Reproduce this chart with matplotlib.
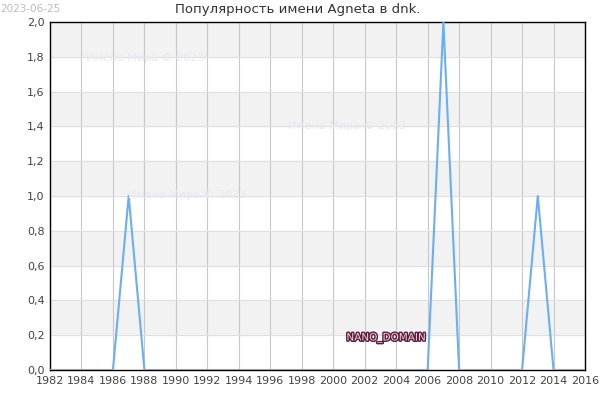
import matplotlib
matplotlib.use("Agg")
import matplotlib.pyplot as plt
import matplotlib.patheffects as pe

years = list(range(1982, 2017))
values = [0] * len(years)
peaks = {1987: 1, 2007: 2, 2013: 1}
for y, v in peaks.items():
    values[years.index(y)] = v

yticks = [0.0, 0.2, 0.4, 0.6, 0.8, 1.0, 1.2, 1.4, 1.6, 1.8, 2.0]
xticks = list(range(1982, 2017, 2))

fig = plt.figure(figsize=(6, 4), dpi=100)
ax = fig.add_axes([50 / 600, 30 / 400, 535 / 600, 348 / 400])

# alternating bands
for i in range(1, len(yticks) - 1, 2):
    ax.axhspan(yticks[i], yticks[i + 1], color="#f2f2f2", zorder=0)

for x in xticks:
    ax.axvline(x, color="#c8c8c8", lw=0.8, zorder=1)
for y in yticks:
    ax.axhline(y, color="#e0e0e0", lw=0.8, zorder=1)

ax.plot(years, values, color="#6aaef5", lw=1.5, zorder=3)

ax.set_xlim(1982, 2016)
ax.set_ylim(0, 2.0)
ax.set_xticks(xticks)
ax.set_yticks(yticks)
ax.set_yticklabels([f"{v:.1f}".replace(".", ",") for v in yticks])
ax.tick_params(labelsize=8, colors="#444444", length=0, pad=4)
for s in ax.spines.values():
    s.set_color("#000000")
    s.set_linewidth(1)

fig.text(0.497, 1 - 10 / 400, "Популярность имени Agneta в dnk.", fontsize=9.5,
         color="#333333", ha="center", va="center")
fig.text(0.0, 0.99, "2023-06-25", fontsize=7.5, color="#bbbbbb", va="top", ha="left")

wm = "Имена Мира © 2023"
for (px, py) in [(145, 58), (347, 126), (187, 195)]:
    fig.text(px / 600, 1 - py / 400, wm, fontsize=8, color="#e8e8f6", ha="center", va="center")

fig.text(386 / 600, 1 - 338 / 400, "NANO_DOMAIN", fontsize=7.5, color="#f0d0e0",
         ha="center", va="center",
         path_effects=[pe.withStroke(linewidth=2, foreground="#5a1a3a")])

fig.savefig("out.png", dpi=100)
